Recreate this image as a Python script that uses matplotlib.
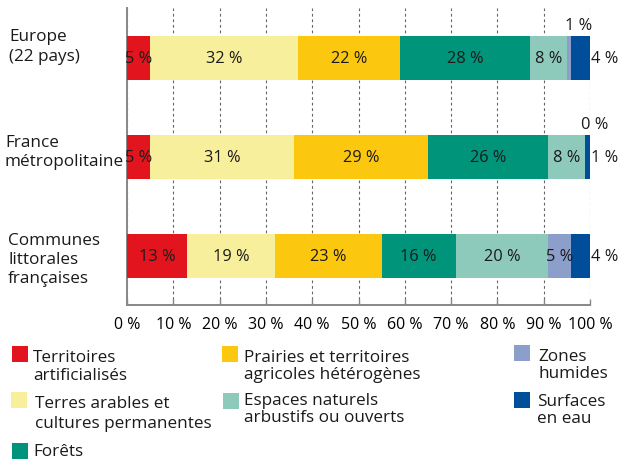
import numpy as np
import matplotlib.pyplot as plt
from matplotlib.patches import Rectangle

plt.rcParams['font.family'] = ['Open Sans', 'DejaVu Sans']
plt.rcParams['text.color'] = '#1a1a1a'

# données
zones = ["Europe\n(22 pays)", "France\nmétropolitaine", "Communes\nlittorales\nfrançaises"]
types = ["Territoires\nartificialisés", "Terres arables et\ncultures permanentes",
         "Prairies et territoires\nagricoles hétérogènes", "Forêts",
         "Espaces naturels\narbustifs ou ouverts", "Zones\nhumides", "Surfaces\nen eau"]
couleurs = ['#e2151f', '#f8ef9c', '#fcc80f', '#00957b', '#8dcabb', '#8c9fcb', '#004e9a']

territoires = [5, 5, 13]
terres_arables = [32, 31, 19]
prairies = [22, 29, 23]
forets = [28, 26, 16]
espaces_naturels = [8, 8, 20]
zones_humides = [1, 0, 5]
surfaces_eau = [4, 1, 4]
graduations = [0, 10, 20, 30, 40, 50, 60, 70, 80, 90, 100]

series = [territoires, terres_arables, prairies, forets, espaces_naturels, zones_humides, surfaces_eau]

W, H = 619, 460
fs_texte = 12.3   # zones et légende
fs_barre = 11.8   # valeurs dans les barres
fs_axe = 11.5     # graduations


def px(x, y):
    return x / W, 1 - y / H


def texte(x, y, label, pas):
    # une ligne après l'autre, y = ligne de base de la première
    for j, ligne in enumerate(label.split("\n")):
        fx, fy = px(x, y + j * pas)
        fig.text(fx, fy, ligne, ha='left', va='baseline', fontsize=fs_texte)


fig = plt.figure(figsize=(W / 100, H / 100), dpi=100)
ax = fig.add_axes([127 / W, 1 - 305.7 / H, 463 / W, 296.7 / H])

y = np.arange(len(zones))
gauche = np.zeros(len(zones))
for k, (serie, couleur) in enumerate(zip(series, couleurs)):
    serie = np.array(serie, dtype=float)
    ax.barh(y, serie, left=gauche, height=0.444, color=couleur, zorder=3)
    for i, v in enumerate(serie):
        centre = gauche[i] + v / 2
        txt = f"{v:.0f} %"
        if k == len(series) - 1:
            ax.text(100.3, y[i], txt, ha='left', va='center', fontsize=fs_barre, zorder=4)
        elif v < 3:
            ax.text(centre + 2, y[i] - 0.25, txt, ha='center', va='bottom', fontsize=fs_barre, zorder=4)
        else:
            ax.text(centre, y[i], txt, ha='center', va='center', fontsize=fs_barre, zorder=4)
    gauche += serie

ax.set_xlim(0, 100)
ax.set_ylim(2.49, -0.505)
ax.set_axisbelow(True)
ax.xaxis.grid(True, color='#666666', linestyle=(0, (2.5, 2.5)), linewidth=0.8)
ax.set_xticks(graduations, [f"{t} %" for t in graduations])
ax.set_yticks([])
ax.tick_params(axis='x', direction='in', length=4, width=1, color='#888888', pad=8, labelsize=fs_axe)
for s in ['top', 'right']:
    ax.spines[s].set_visible(False)
for s in ['left', 'bottom']:
    ax.spines[s].set_color('#888888')
    ax.spines[s].set_linewidth(1.4)

# étiquettes des zones
pos_zones = [(9, 41, 20), (5, 147, 19), (8, 245, 19)]
for label, (x0, y0, pas) in zip(zones, pos_zones):
    texte(x0, y0, label, pas)

# légende
pos_legende = [
    (12, 347, 33, 362, 18),
    (11, 393, 35, 408, 20),
    (222, 347, 244, 362, 17),
    (12, 444, 33, 456, 18),
    (223, 394, 244, 405, 17),
    (514, 346, 538, 361, 17),
    (514, 393, 537, 406, 17),
]
for label, couleur, (xs, ys, xt, yt, pas) in zip(types, couleurs, pos_legende):
    fx, fy = px(xs, ys + 16)
    fig.add_artist(Rectangle((fx, fy), 16 / W, 16 / H, transform=fig.transFigure,
                             facecolor=couleur, edgecolor='none'))
    texte(xt, yt, label, pas)

fig.savefig("out.png", dpi=100)
